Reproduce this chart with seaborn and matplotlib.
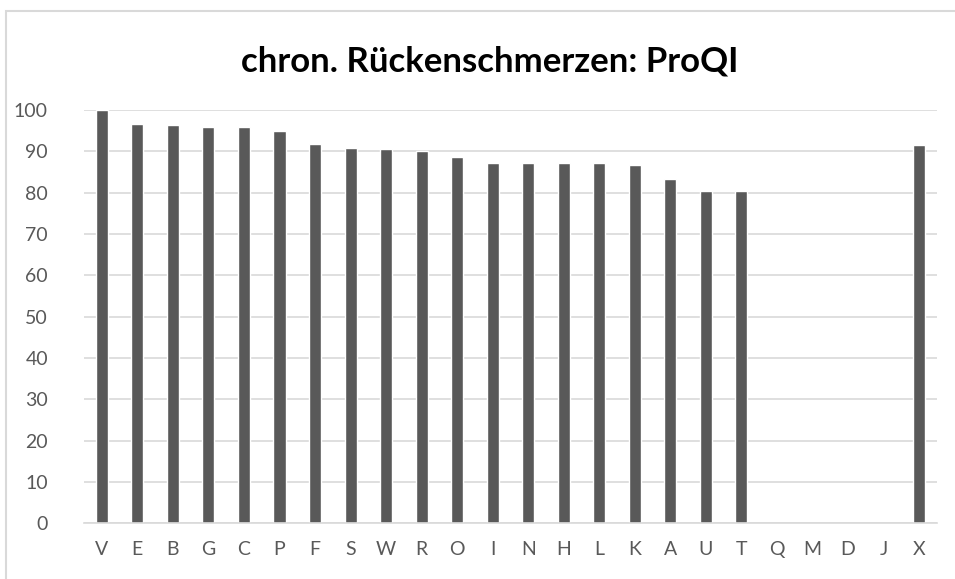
import numpy as np
import pandas as pd
import matplotlib.pyplot as plt
import seaborn as sns
from matplotlib.patches import Rectangle

# data
categories = ['V', 'E', 'B', 'G', 'C', 'P', 'F', 'S', 'W', 'R', 'O', 'I',
              'N', 'H', 'L', 'K', 'A', 'U', 'T', 'Q', 'M', 'D', 'J', 'X']
values = [100.0, 96.7, 96.3, 95.8, 95.8, 94.8, 91.8, 90.9, 90.5, 90.0, 88.5, 87.1,
          87.1, 87.1, 87.1, 86.6, 83.2, 80.3, 80.3, np.nan, np.nan, np.nan, np.nan, 91.5]
yticks = list(range(0, 101, 10))
title = "chron. Rückenschmerzen: ProQI"

df = pd.DataFrame({"cat": categories, "val": values})

sns.set_style("white")
plt.rcParams['font.family'] = ['Lato', 'DejaVu Sans']

fig = plt.figure(figsize=(9.55, 5.79), dpi=100)
ax = fig.add_axes([0.088, 0.0962, 0.893, 0.714])

sns.barplot(data=df, x="cat", y="val", order=categories, color="#595959",
            saturation=1, width=0.34, ax=ax)

ax.set_ylim(0, 100)
ax.set_xlim(-0.5, len(categories) - 0.5)
ax.set_yticks(yticks)
ax.set_yticklabels([str(t) for t in yticks])
ax.yaxis.grid(True, color="#d9d9d9", linewidth=1.2)
ax.set_axisbelow(True)
for s in ["top", "right", "left"]:
    ax.spines[s].set_visible(False)
ax.spines["bottom"].set_color("#d9d9d9")
ax.spines["bottom"].set_linewidth(1.2)
ax.tick_params(axis="both", length=0, labelsize=14, colors="#595959")
ax.tick_params(axis="x", pad=13)
ax.tick_params(axis="y", pad=26)
ax.set_xlabel("")
ax.set_ylabel("")

fig.text(0.513, 0.893, title, ha="center", va="center", fontsize=25,
         fontweight="bold", color="black")

# chart frame
fig.patches.append(Rectangle((6 / 955, -0.05), 1.2, 1 - 11 / 579 + 0.05,
                             transform=fig.transFigure, fill=False,
                             edgecolor="#d9d9d9", linewidth=1.5))

plt.savefig("out.png", dpi=100)
plt.close()
